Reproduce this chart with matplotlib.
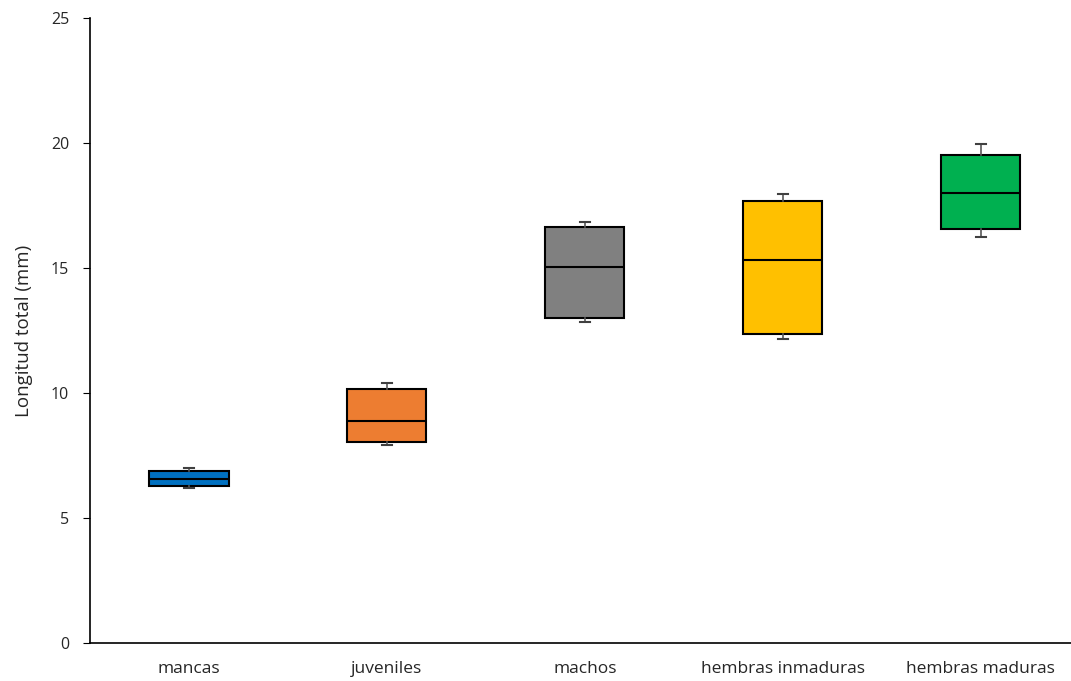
import matplotlib.pyplot as plt

# longitud total (mm) por grupo
grupos = ["mancas", "juveniles", "machos", "hembras inmaduras", "hembras maduras"]
minimos = [6.20, 7.91, 12.84, 12.16, 16.23]
q1 = [6.26, 8.05, 12.99, 12.35, 16.57]
medianas = [6.56, 8.89, 15.03, 15.31, 18.00]
q3 = [6.88, 10.16, 16.65, 17.69, 19.52]
maximos = [6.98, 10.39, 16.85, 17.96, 19.95]
colores = ["#0070C0", "#ED7D31", "#808080", "#FFC000", "#00B050"]

plt.rcParams['font.family'] = ['Open Sans', 'DejaVu Sans']

fig = plt.figure(figsize=(10.71, 6.81), dpi=100)
ax = fig.add_axes([0.084, 0.0558, 0.924, 0.9178])

stats = []
for i in range(len(grupos)):
    stats.append({"label": grupos[i], "whislo": minimos[i], "q1": q1[i],
                  "med": medianas[i], "q3": q3[i], "whishi": maximos[i],
                  "fliers": []})

bp = ax.bxp(stats, positions=range(1, 6), widths=0.4, patch_artist=True,
            showfliers=False, capwidths=0.05,
            boxprops=dict(edgecolor="black", linewidth=1.5),
            medianprops=dict(color="black", linewidth=1.5),
            whiskerprops=dict(color="#595959", linewidth=1.2),
            capprops=dict(color="#404040", linewidth=1.5))
for caja, c in zip(bp["boxes"], colores):
    caja.set_facecolor(c)

ax.set_xlim(0.5, 5.5)
ax.set_ylim(0, 25)
ax.set_yticks([0, 5, 10, 15, 20, 25])
ax.spines["top"].set_visible(False)
ax.spines["right"].set_visible(False)
ax.spines["left"].set_linewidth(1.2)
ax.spines["bottom"].set_linewidth(1.2)
ax.tick_params(axis="y", direction="out", length=5, labelsize=11.5, pad=10,
               labelcolor="#262626")
ax.tick_params(axis="x", length=0, labelsize=12.5, pad=13, labelcolor="#262626")
ax.set_ylabel("Longitud total (mm)", fontsize=13.5, color="#262626", labelpad=13)

fig.savefig("out.png", dpi=100)
